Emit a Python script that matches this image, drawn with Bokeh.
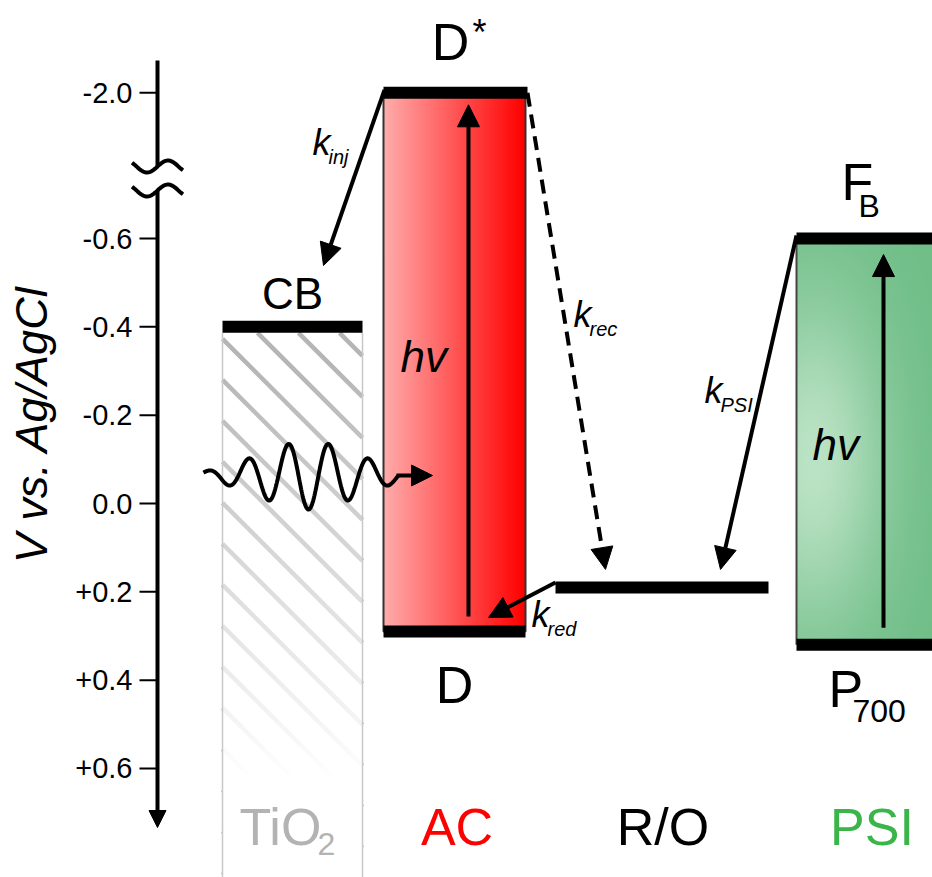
import numpy as np
from bokeh.plotting import figure
from bokeh.models import Range1d, Arrow, NormalHead
from bokeh.core.properties import value
from bokeh.embed import file_html
from bokeh.resources import INLINE

# Redox levels (V vs. Ag/AgCl)
level_names = ["CB", "D*", "D", "R/O", "F_B", "P700"]
level_potentials = [-0.40, -2.00, 0.29, 0.19, -0.60, 0.32]

# Potential axis
tick_values = [-2.0, -0.6, -0.4, -0.2, 0.0, 0.2, 0.4, 0.6]
tick_labels = ["-2.0", "-0.6", "-0.4", "-0.2", "0.0", "+0.2", "+0.4", "+0.6"]
axis_title = "V vs. Ag/AgCl"

# Components named along the bottom
component_labels = ["TiO", "AC", "R/O", "PSI"]
component_colors = ["#b3b3b3", "#ff0000", "#000000", "#39b54a"]

E = dict(zip(level_names, level_potentials))

W, H = 932, 877
ZERO_ROW = 503        # canvas row of 0 V
PX = 1 / 441.6        # volts per pixel
BREAK_SHIFT = 1.07    # the axis is broken between -0.6 V and -2.0 V
FONT = value("Liberation Sans")
MID = 0.355           # distance from baseline to the middle of capitals, in em


def y_of(v):
    """Plot coordinate of a potential (more negative potentials sit higher)."""
    return -(v + BREAK_SHIFT) if v < -1.0 else -v


def row(px):
    """Plot coordinate of a canvas row, used for decorations and labels."""
    return (ZERO_ROW - px) * PX


# column extents
AXIS_X = 157
TIO2_X = (222, 362)
AC_X = (383, 525)
RO_X = (555, 768)
PSI_X = (796, 940)

p = figure(width=W, height=H, x_range=Range1d(0, W), y_range=Range1d(row(H), row(0)),
           output_backend="svg", toolbar_location=None, min_border=0,
           x_axis_location=None, y_axis_location=None)
p.xgrid.visible = False
p.ygrid.visible = False
p.outline_line_color = None
p.background_fill_color = "white"
p.border_fill_color = "white"


def rgba_image(r, g, b, a):
    h, w = np.shape(a)
    img = np.empty((h, w), dtype=np.uint32)
    view = img.view(dtype=np.uint8).reshape((h, w, 4))
    view[..., 0] = np.broadcast_to(r, (h, w)).astype(np.uint8)
    view[..., 1] = np.broadcast_to(g, (h, w)).astype(np.uint8)
    view[..., 2] = np.broadcast_to(b, (h, w)).astype(np.uint8)
    view[..., 3] = np.broadcast_to(a, (h, w)).astype(np.uint8)
    return img


def label(x, y, text, size, color="black", align="left", style="normal", angle=0.0):
    """Text whose baseline sits at y (plot units); drawn centred on its capitals."""
    p.text(x=[x], y=[y + MID * size * PX], text=[text], text_font=FONT,
           text_font_size=value(f"{size}px"), text_color=color, text_align=align,
           text_baseline="middle", text_font_style=style, angle=angle)


# ---------------- TiO2: hatched, fading column ----------------
y_bottom = row(H)
hatch_top = y_of(E["CB"]) - 6 * PX
x0, x1 = TIO2_X
hx0, hx1, hy0, hy1 = [], [], [], []
for k in range(-5, 22):
    b = hatch_top + (35 - 41 * k) * PX          # y where the line meets x0
    xa = max(x0, x0 + (b - hatch_top) / PX)
    xb = min(x1, x0 + (b - y_bottom) / PX)
    if xa < xb:
        hx0.append(xa); hx1.append(xb)
        hy0.append(b - (xa - x0) * PX); hy1.append(b - (xb - x0) * PX)
p.segment(hx0, hy0, hx1, hy1, line_color="#b5b5b5", line_width=4.5)

# white veil that fades the hatch toward the bottom
nrows = 280
fade_top_px = 332
rows_px = H - (np.arange(nrows) + 0.5) * (H - fade_top_px) / nrows
alpha = np.clip((rows_px - 360) / 420, 0, 1) * 255
alpha = np.repeat(alpha[:, None], 2, axis=1)
p.image_rgba(image=[rgba_image(255, 255, 255, alpha)], x=x0, y=y_bottom,
             dw=x1 - x0, dh=row(fade_top_px) - y_bottom)
p.segment([x0, x1], [hatch_top, hatch_top], [x0, x1], [y_bottom, y_bottom],
          line_color="#c8c8c8", line_width=1.5)

# ---------------- AC: red gradient column ----------------
t = np.linspace(0, 1, AC_X[1] - AC_X[0])[None, :]
gb = 172 * (1 - t)
p.image_rgba(image=[rgba_image(255, gb, gb, np.full_like(t, 255))], x=AC_X[0], y=y_of(E["D"]),
             dw=AC_X[1] - AC_X[0], dh=y_of(E["D*"]) - y_of(E["D"]))
p.quad(left=[AC_X[0]], right=[AC_X[1]], bottom=[y_of(E["D"])], top=[y_of(E["D*"])],
       fill_color=None, line_color="#333333", line_width=2)

# ---------------- PSI: green column ----------------
pw, ph = 136, 202
u = (np.arange(pw) + 0.5)[None, :] / pw
v = 1 - (np.arange(ph) + 0.5)[:, None] / ph     # 0 at top, 1 at bottom
glow = 0.8 * np.exp(-((u - 0.12) / 0.5) ** 2 - ((v - 0.55) / 0.4) ** 2)
dark = np.array([112, 190, 136])
light = np.array([206, 236, 212])
rgb = [dark[i] * (1 - glow) + light[i] * glow for i in range(3)]
p.image_rgba(image=[rgba_image(rgb[0], rgb[1], rgb[2], np.full_like(glow, 255))],
             x=PSI_X[0], y=y_of(E["P700"]), dw=PSI_X[1] - PSI_X[0],
             dh=y_of(E["F_B"]) - y_of(E["P700"]))
p.segment([PSI_X[0]], [y_of(E["P700"])], [PSI_X[0]], [y_of(E["F_B"])],
          line_color="#444444", line_width=2)

# ---------------- energy levels ----------------
bar_x = {"CB": TIO2_X, "D*": (AC_X[0], AC_X[1] + 2), "D": AC_X, "R/O": RO_X,
         "F_B": PSI_X, "P700": PSI_X}
p.segment(x0=[bar_x[n][0] for n in level_names], x1=[bar_x[n][1] for n in level_names],
          y0=[y_of(E[n]) for n in level_names], y1=[y_of(E[n]) for n in level_names],
          line_color="black", line_width=12, line_cap="butt")

# ---------------- potential axis ----------------
axis_top, axis_tip = row(60), row(827)
break_hi, break_lo = row(166), row(190)
p.segment([AXIS_X], [axis_top], [AXIS_X], [break_hi], line_color="black", line_width=4)
p.add_layout(Arrow(end=NormalHead(size=17, fill_color="black", line_color="black"),
                   x_start=AXIS_X, y_start=break_lo, x_end=AXIS_X, y_end=axis_tip,
                   line_color="black", line_width=4))
sx = np.linspace(AXIS_X - 25.5, AXIS_X + 25.5, 60)
for yc in (break_hi, break_lo):
    p.line(sx, yc + 6 * np.sin(2 * np.pi * (sx - AXIS_X) / 42) * PX,
           line_color="black", line_width=4)
tick_y = [y_of(t) for t in tick_values]
p.segment([AXIS_X - 18] * len(tick_y), tick_y, [AXIS_X] * len(tick_y), tick_y,
          line_color="black", line_width=2)
p.text(x=[AXIS_X - 25] * len(tick_y), y=tick_y, text=tick_labels, text_font=FONT,
       text_font_size=value("29px"), text_align="right", text_baseline="middle",
       text_color="black")
p.text(x=[47 - MID * 44], y=[row(424)], text=[axis_title], text_font=FONT,
       text_font_size=value("45px"), text_align="center", text_baseline="middle",
       text_font_style="italic", text_color="black", angle=np.pi / 2)

# ---------------- photon ----------------
wx = np.linspace(203, 398, 400)
env = 34 * np.exp(-((wx - 308) / 72) ** 2)
wave_row = 475
p.line(wx, row(wave_row) - env * np.cos(2 * np.pi * (wx - 308) / 40) * PX,
       line_color="black", line_width=4)
p.add_layout(Arrow(end=NormalHead(size=21, fill_color="black", line_color="black"),
                   x_start=396, y_start=row(wave_row), x_end=432, y_end=row(wave_row),
                   line_color="black", line_width=4))


# ---------------- electron-transfer and excitation arrows ----------------
def arrow(xs, ys, xe, ye, dash="solid", size=22):
    p.add_layout(Arrow(end=NormalHead(size=size, fill_color="black", line_color="black"),
                       x_start=xs, y_start=ys, x_end=xe, y_end=ye,
                       line_color="black", line_width=4, line_dash=dash))


arrow(AC_X[0] + 1, y_of(E["D*"]) + 3 * PX, 323, row(265))                     # k_inj
arrow(AC_X[1] + 2, y_of(E["D*"]), 605, y_of(E["R/O"]) + 18 * PX, dash="14 8")  # k_rec
arrow(PSI_X[0], y_of(E["F_B"]) + 3 * PX, 720, y_of(E["R/O"]) + 18 * PX)       # k_PSI
arrow(RO_X[0], y_of(E["R/O"]) + 5 * PX, 488, y_of(E["D"]) + 14 * PX)          # k_red
arrow(468, y_of(E["D"]) + 15 * PX, 468, y_of(E["D*"]) - 12 * PX)              # AC excitation
arrow(883, y_of(E["P700"]) + 17 * PX, 883, y_of(E["F_B"]) - 16 * PX)          # PSI excitation

# ---------------- level labels (baselines measured from each level) ----------------
label(292, y_of(E["CB"]) + 18 * PX, "CB", 44, align="center")
label(450, y_of(E["D*"]) + 32 * PX, "D", 52, align="center")
label(472, y_of(E["D*"]) + 48 * PX, "*", 36)
label(454, y_of(E["D"]) - 72 * PX, "D", 52, align="center")
label(841, y_of(E["F_B"]) + 38 * PX, "F", 52)
label(858, y_of(E["F_B"]) + 21 * PX, "B", 32)
label(828, y_of(E["P700"]) - 63 * PX, "P", 52)
label(852, y_of(E["P700"]) - 78 * PX, "700", 32)

label(400, row(372), "hv", 44, style="italic")
label(812, row(460), "hv", 44, style="italic")

for (kx, ky, sub) in [(312, 155, "inj"), (573, 327, "rec"), (704, 403, "PSI"), (531, 627, "red")]:
    label(kx, row(ky), "k", 36, style="italic")
    label(kx + 16, row(ky + 9), sub, 20, style="italic")

# ---------------- component names ----------------
name_row = row(845)
name_x = [239, 456.5, 662.5, 871.5]
name_align = ["left", "center", "center", "center"]
for nx, txt, col, al in zip(name_x, component_labels, component_colors, name_align):
    label(nx, name_row, txt, 52, color=col, align=al)
label(317, row(855), "2", 32, color=component_colors[0])

open("out.html", "w").write(file_html(p, INLINE))
